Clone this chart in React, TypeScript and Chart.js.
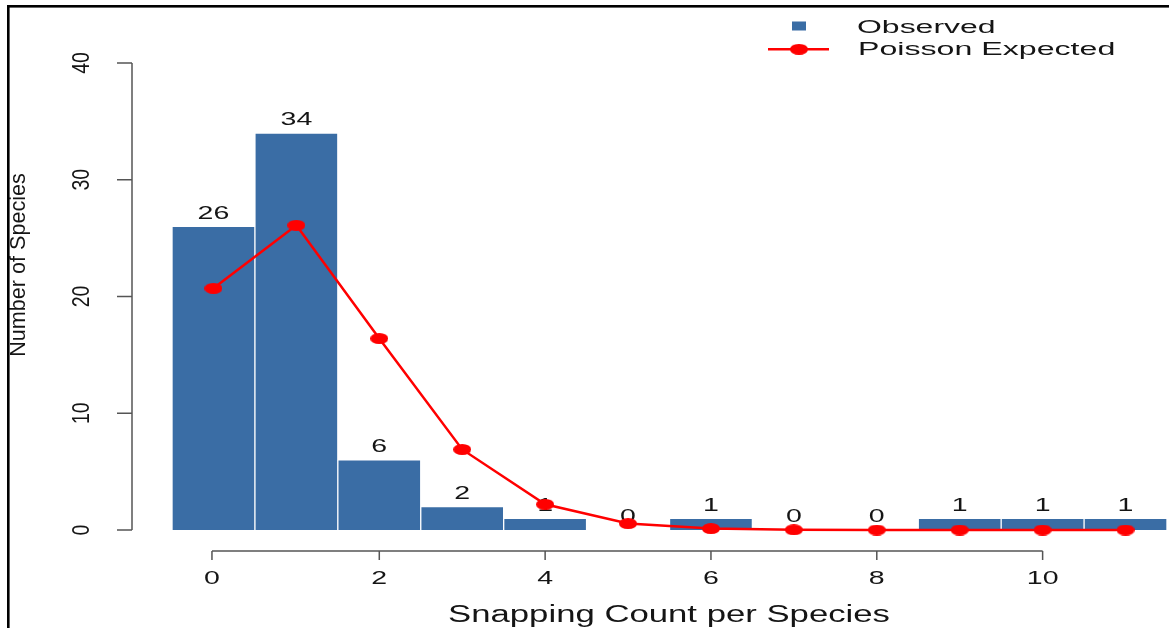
import { useEffect, useRef } from 'react';
import { Chart, registerables } from 'chart.js';

Chart.register(...registerables);

// Snapping counts per species (0 … 11)
const counts = ['0', '1', '2', '3', '4', '5', '6', '7', '8', '9', '10', '11'];
// Observed number of species for each count
const observed = [26, 34, 6, 2, 1, 0, 1, 0, 0, 1, 1, 1];
// Expected number of species under a Poisson model
const poissonExpected = [20.7, 26.1, 16.4, 6.9, 2.2, 0.55, 0.12, 0.02, 0, 0, 0, 0];
// Axis ticks
const yTicks = [0, 10, 20, 30, 40];
const xTickIndices = [0, 2, 4, 6, 8, 10];

const BAR_BLUE = '#3A6DA5';
const RED = '#FF0000';
const INK = '#151515';
const AXIS = '#555555';
const FONT = '"Liberation Sans", Arial, Helvetica, sans-serif';

function drawText(
  ctx: CanvasRenderingContext2D,
  text: string,
  x: number,
  y: number,
  size: number,
  sx: number,
  sy: number,
  align: CanvasTextAlign,
  rotate = 0,
) {
  ctx.save();
  ctx.translate(x, y);
  if (rotate) ctx.rotate(rotate);
  ctx.scale(sx, sy);
  ctx.font = `${size}px ${FONT}`;
  ctx.textAlign = align;
  ctx.textBaseline = 'alphabetic';
  ctx.fillStyle = INK;
  ctx.fillText(text, 0, 0);
  ctx.restore();
}

function makeEllipse(w: number, h: number, color: string) {
  const c = document.createElement('canvas');
  c.width = w;
  c.height = h;
  const g = c.getContext('2d')!;
  g.fillStyle = color;
  g.beginPath();
  g.ellipse(w / 2, h / 2, w / 2, h / 2, 0, 0, Math.PI * 2);
  g.fill();
  return c;
}

export default function App() {
  const ref = useRef<HTMLCanvasElement>(null);

  useEffect(() => {
    document.body.style.margin = '0';
    const canvas = ref.current;
    if (!canvas) return;
    const dot = makeEllipse(18, 11, RED);

    const decorations = {
      id: 'rDecorations',
      beforeDraw(chart: any) {
        const ctx = chart.ctx as CanvasRenderingContext2D;
        ctx.save();
        ctx.fillStyle = '#ffffff';
        ctx.fillRect(0, 0, chart.width, chart.height);
        // outer frame (top and left edges)
        ctx.fillStyle = '#000000';
        ctx.fillRect(7, 5, chart.width - 7, 2.6);
        ctx.fillRect(7, 5, 2.6, chart.height - 5);
        ctx.restore();
      },
      afterDatasetDraw(chart: any, args: any) {
        if (args.index !== 0) return;
        const ctx = chart.ctx as CanvasRenderingContext2D;
        const xs = chart.scales.x;
        const ys = chart.scales.y;
        observed.forEach((v, i) => {
          const x = xs.getPixelForValue(i);
          const y = ys.getPixelForValue(v) - 7.8;
          drawText(ctx, String(v), x, y, 19, 1.5, 1, 'center');
        });
      },
      afterDraw(chart: any) {
        const ctx = chart.ctx as CanvasRenderingContext2D;
        const xs = chart.scales.x;
        const ys = chart.scales.y;
        ctx.save();
        ctx.strokeStyle = AXIS;
        ctx.lineWidth = 1.5;

        // y axis
        const yAxisX = 132;
        const y0 = ys.getPixelForValue(yTicks[0]);
        const y1 = ys.getPixelForValue(yTicks[yTicks.length - 1]);
        ctx.beginPath();
        ctx.moveTo(yAxisX, y0);
        ctx.lineTo(yAxisX, y1);
        yTicks.forEach((t) => {
          const py = ys.getPixelForValue(t);
          ctx.moveTo(yAxisX, py);
          ctx.lineTo(117, py);
        });
        ctx.stroke();
        yTicks.forEach((t) => {
          drawText(ctx, String(t), 89, ys.getPixelForValue(t), 19.5, 1, 1.25, 'center', -Math.PI / 2);
        });

        // x axis
        const xAxisY = 551;
        const xa = xs.getPixelForValue(xTickIndices[0]) - 1.5;
        const xb = xs.getPixelForValue(xTickIndices[xTickIndices.length - 1]);
        ctx.beginPath();
        ctx.moveTo(xa, xAxisY);
        ctx.lineTo(xb, xAxisY);
        xTickIndices.forEach((i) => {
          const px = xs.getPixelForValue(i) - (i === 0 ? 1.5 : 0);
          ctx.moveTo(px, xAxisY);
          ctx.lineTo(px, 560);
        });
        ctx.stroke();
        xTickIndices.forEach((i) => {
          const px = xs.getPixelForValue(i) - (i === 0 ? 1.5 : 0);
          drawText(ctx, counts[i], px, 584.3, 19, 1.5, 1, 'center');
        });

        // axis titles
        drawText(ctx, 'Snapping Count per Species', 669, 621.5, 23.3, 1.49, 1, 'center');
        drawText(ctx, 'Number of Species', 25, 265, 21.6, 1, 1.0, 'center', -Math.PI / 2);

        // legend
        ctx.fillStyle = BAR_BLUE;
        ctx.fillRect(792, 21.5, 14, 9);
        ctx.strokeStyle = RED;
        ctx.lineWidth = 2.5;
        ctx.beginPath();
        ctx.moveTo(768, 49.3);
        ctx.lineTo(829, 49.3);
        ctx.stroke();
        ctx.drawImage(dot, 799 - 9, 49.3 - 5.5);
        drawText(ctx, 'Observed', 857, 33, 18.7, 1.71, 1, 'left');
        drawText(ctx, 'Poisson Expected', 858, 54.5, 18.7, 1.72, 1, 'left');
        ctx.restore();
      },
    };

    const chart = new Chart(canvas, {
      type: 'bar',
      data: {
        labels: counts,
        datasets: [
          {
            type: 'bar',
            label: 'Observed',
            data: observed,
            backgroundColor: BAR_BLUE,
            borderColor: 'rgba(255,255,255,0.85)',
            borderWidth: 1,
            barPercentage: 1,
            categoryPercentage: 1,
            order: 2,
          },
          {
            type: 'line',
            label: 'Poisson Expected',
            data: poissonExpected,
            borderColor: RED,
            backgroundColor: RED,
            borderWidth: 2.5,
            pointStyle: dot as any,
            pointRadius: 6,
            tension: 0,
            clip: false as any,
            order: 1,
          },
        ],
      },
      options: {
        responsive: false,
        animation: false,
        devicePixelRatio: 1,
        layout: { autoPadding: false, padding: { left: 172, right: 2, top: 63, bottom: 98 } },
        plugins: {
          legend: { display: false },
          tooltip: { enabled: false },
        },
        scales: {
          x: { type: 'category', display: false, offset: true, grid: { display: false } },
          y: { type: 'linear', display: false, min: 0, max: 40 },
        },
      },
      plugins: [decorations],
    });

    return () => chart.destroy();
  }, []);

  return (
    <div style={{ position: 'absolute', left: 0, top: 0, width: 1169, height: 628, background: '#fff' }}>
      <canvas ref={ref} width={1169} height={628} style={{ display: 'block' }} />
    </div>
  );
}
